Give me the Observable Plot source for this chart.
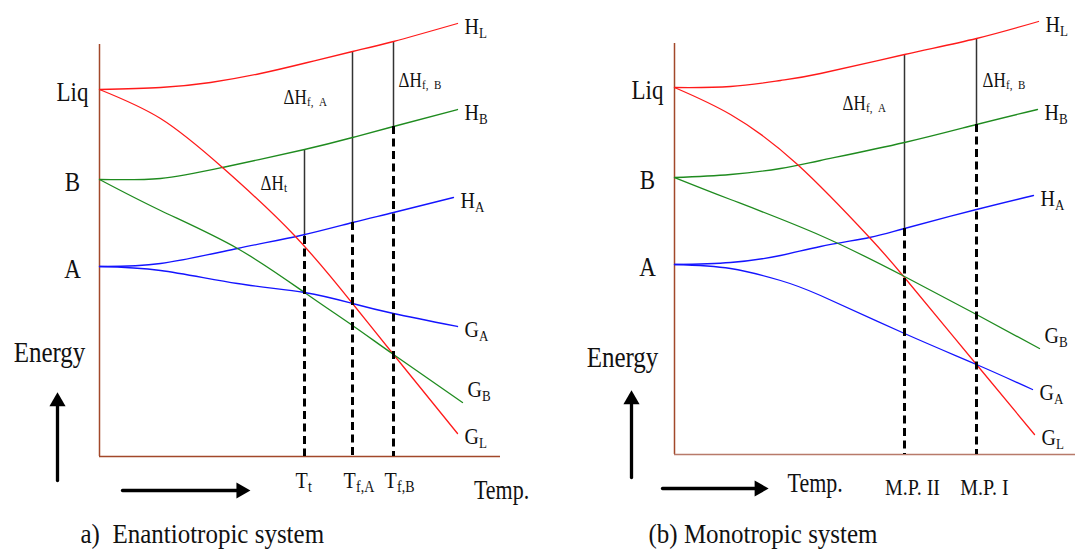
<!DOCTYPE html>
<html><head><meta charset="utf-8">
<script src="https://cdn.jsdelivr.net/npm/d3@7"></script>
<script src="https://cdn.jsdelivr.net/npm/@observablehq/plot@0.6"></script>
<style>
body{margin:0;background:#fff;}
#wrap{position:relative;width:1075px;height:551px;overflow:hidden;background:#fff;}
#pa,#pb{position:absolute;top:0;}
#pa{left:0;width:537px;} #pb{left:537px;width:538px;}
</style></head><body><div id="wrap"><div id="pa"></div><div id="pb"></div></div>
<script>
const FONT = "Liberation Serif, Times New Roman, serif";
const INK = "#111";
const RED = "#ff1a1a", GREEN = "#1f8b1f", BLUE = "#1414ff", AXIS = "#a2482a";

// ---------- Panel (a): Enantiotropic system  [temperature, energy] ----------
const a_HL = [[0,91.75],[15.25,92.25],[27.75,93.5],[40.25,95.75],[52,98.5],[63.25,101.25],[73.5,103.75],[89.5,108.25]];
const a_HB = [[0,69.25],[15.25,69.5],[30.75,72.25],[51.25,76.75],[63.25,79.75],[73.5,82.5],[89.5,86.75]];
const a_HA = [[0,47.5],[15.25,48.25],[34.5,52],[50.25,55.25],[63.25,58.5],[73.5,61],[88.5,64.75]];
const a_GL = [[0,91.75],[15.25,84.5],[30.75,72.25],[48.75,55.25],[63.25,38.25],[73.5,25.5],[89.5,5.75]];
const a_GB = [[0,69.25],[15.25,61.5],[34.5,52],[51.25,41],[63.25,32.75],[73.5,25.5],[90.75,13.5]];
const a_GA = [[0,47.5],[15.25,46.5],[34.5,43.25],[51.25,41],[63.25,38.25],[73.5,35.75],[89.5,32.5]];
const a_transitions = [
  {T:51.25, top:76.75, mid:55,   main:"T", sub:"t"},
  {T:63.25, top:101.25, mid:58.5, main:"T", sub:"f,A"},
  {T:73.5,  top:103.75, mid:82.5, main:"T", sub:"f,B"}
];
const a_deltas = [
  {T:40.25, E:68.25, sub:"t"},
  {T:46,    E:89.75, sub:"f,\u00a0\u00a0A"},
  {T:74.75, E:94,    sub:"f,\u00a0\u00a0B"}
];
const a_arrows = {up:[[-10.5,-6],[-10.5,13]], upHead:[-10.5,13.7], right:[[5.75,-8.5],[35,-8.5]], rightHead:[35.4,-8.5]};

// ---------- Panel (b): Monotropic system ----------
const b_HL = [[0,91.75],[14,92],[26.5,93.5],[36.5,95.25],[57.5,100],[75.5,104],[91,108.25]];
const b_HB = [[0,69.25],[14,70],[26.5,71.5],[36.5,73.5],[57.5,78],[75.5,82.5],[90.75,86.25]];
const b_HA = [[0,47.5],[14,48],[26.5,49.75],[36.5,52],[48.75,54.25],[57.5,56.5],[75.5,61.25],[89.75,64.75]];
const b_GL = [[0,91.75],[14,85],[30.75,72.5],[48.75,54.25],[57.5,44.25],[75.5,22.5],[90,5]];
const b_GB = [[0,69.25],[14,63.75],[36.5,54.75],[57.5,44.5],[75.5,35],[91.25,26.5]];
const b_GA = [[0,47.5],[14,46.5],[26.5,43.5],[36.5,39.75],[57.5,30.25],[75.5,22.5],[89.5,16.25]];
const b_transitions = [
  {T:57.5, top:100, mid:56.5, label:"M.P. II"},
  {T:75.5, top:104, mid:82.5, label:"M.P. I"}
];
const b_deltas = [
  {T:42, E:87.75, sub:"f,\u00a0\u00a0A"},
  {T:77, E:93.5,  sub:"f,\u00a0\u00a0B"}
];
const b_arrows = {up:[[-10.75,-5.75],[-10.75,13]], upHead:[-10.75,13.7], right:[[-3,-8.5],[21,-8.5]], rightHead:[21.2,-8.5]};

const txt = {fontFamily: FONT, fill: INK, lineAnchor: "middle"};

function panel(p) {
  const curves = [
    {key:"HL", main:"H", sub:"L", color:RED,   pts:p.HL},
    {key:"HB", main:"H", sub:"B", color:GREEN, pts:p.HB},
    {key:"HA", main:"H", sub:"A", color:BLUE,  pts:p.HA},
    {key:"GL", main:"G", sub:"L", color:RED,   pts:p.GL},
    {key:"GB", main:"G", sub:"B", color:GREEN, pts:p.GB},
    {key:"GA", main:"G", sub:"A", color:BLUE,  pts:p.GA}
  ];
  const rows = curves.flatMap(c => c.pts.map(([T, E]) => ({key:c.key, color:c.color, T, E})));
  const ends = curves.map(c => { const [T, E] = c.pts[c.pts.length - 1]; return {key:c.key, main:c.main, sub:c.sub, T, E}; });
  const endsMain = ends.filter(d => d.key !== "GB");
  const endsGB = ends.filter(d => d.key === "GB");
  const starts = [{label:"Liq", E:p.HL[0][1]}, {label:"B", E:p.HB[0][1]}, {label:"A", E:p.HA[0][1]}];

  const marks = [
    Plot.ruleX([0], {stroke: AXIS, strokeWidth: 1.5}),
    Plot.ruleY([0], {stroke: p.bottomColor, strokeWidth: 1.5}),
    Plot.ruleX(p.trans, {x:"T", y1:"top", y2:"mid", stroke:"#333", strokeWidth:1.5}),
    Plot.line(rows, {x:"T", y:"E", z:"key", stroke:"color", strokeWidth:1.3, curve:"natural"}),
    Plot.ruleX(p.trans, {x:"T", y1:"mid", y2:0, stroke:"#000", strokeWidth:3, strokeDasharray:"8,4.5"}),
    // state labels
    Plot.text(starts, {x:() => 0, y:"E", text:"label", textAnchor:"middle", dx:-27, dy:3, fontSize:23, ...txt}),
    // curve end labels
    Plot.text(endsMain, {x:"T", y:"E", text:"main", textAnchor:"start", dx:7, dy:3, fontSize:20, ...txt}),
    Plot.text(endsMain, {x:"T", y:"E", text:"sub", textAnchor:"start", dx:21.5, dy:9, fontSize:13, ...txt}),
    Plot.text(endsGB, {x:"T", y:"E", text:"main", textAnchor:"start", dx:5, dy:-13, fontSize:20, ...txt}),
    Plot.text(endsGB, {x:"T", y:"E", text:"sub", textAnchor:"start", dx:19.5, dy:-7, fontSize:13, ...txt}),
    // delta H labels
    Plot.text(p.deltas, {x:"T", y:"E", text:() => "\u0394H", textAnchor:"start", fontSize:17, ...txt}),
    Plot.text(p.deltas, {x:"T", y:"E", text:"sub", textAnchor:"start", dx:23.5, dy:4, fontSize:11, ...txt}),
    // arrows
    Plot.line(p.arrows.up, {x:d => d[0], y:d => d[1], stroke:"#000", strokeWidth:3.3}),
    Plot.line(p.arrows.right, {x:d => d[0], y:d => d[1], stroke:"#000", strokeWidth:3.3}),
    Plot.dot([p.arrows.upHead], {x:d => d[0], y:d => d[1], symbol:"triangle", r:6, fill:"#000", stroke:null}),
    Plot.dot([p.arrows.rightHead], {x:d => d[0], y:d => d[1], symbol:"triangle", r:6, fill:"#000", stroke:null, rotate:90}),
    // Energy label
    Plot.text(["Energy"], {text:d => d, frameAnchor:"left", textAnchor:"middle", dx:p.energy[0], dy:p.energy[1], fontSize:25, ...txt}),
    // caption
    Plot.text([p.caption], {text:d => d, frameAnchor:"bottom-left", textAnchor:"start", dx:p.capPos[0], dy:p.capPos[1], fontSize:25, className:"caption", ...txt}),
    ...p.extra
  ];
  const svg = Plot.plot({
    width: p.width, height: 551,
    marginLeft: p.ml, marginRight: p.mr, marginTop: p.mt, marginBottom: p.mb,
    x: {domain: [0, 100.25], axis: null},
    y: {domain: [0, p.yMax], axis: null},
    color: {type: "identity"},
    style: {overflow: "visible", fontFamily: FONT, background: "transparent"},
    marks
  });
  svg.querySelectorAll("text").forEach(t => {
    const k = t.closest(".caption") ? 1.12 : 1.2;
    const tr = t.getAttribute("transform") || "";
    t.setAttribute("transform", tr + ` scale(1,${k})`);
  });
  return svg;
}

const svgA = panel({
  HL:a_HL, HB:a_HB, HA:a_HA, GL:a_GL, GB:a_GB, GA:a_GA,
  trans:a_transitions, deltas:a_deltas, arrows:a_arrows,
  width:537, ml:99, mr:37, mt:44, mb:95, yMax:103, bottomColor:AXIS,
  energy:[-50, 102], caption:"a)\u00a0\u00a0Enantiotropic system", capPos:[-19, 78],
  extra:[
    Plot.text(a_transitions, {x:"T", y:() => 0, text:"main", textAnchor:"start", dx:-9, dy:24, fontSize:20, ...txt}),
    Plot.text(a_transitions, {x:"T", y:() => 0, text:"sub", textAnchor:"start", dx:3.5, dy:30, fontSize:14, ...txt}),
    Plot.text(["Temp."], {text:d => d, frameAnchor:"bottom-right", textAnchor:"middle", dx:1, dy:34, fontSize:22, ...txt})
  ]
});
const svgB = panel({
  HL:b_HL, HB:b_HB, HA:b_HA, GL:b_GL, GB:b_GB, GA:b_GA,
  trans:b_transitions, deltas:b_deltas, arrows:b_arrows,
  width:538, ml:137, mr:0, mt:43, mb:97, yMax:102.75, bottomColor:"#b87a6a",
  energy:[-52, 108.5], caption:"(b) Monotropic system", capPos:[-26, 80],
  extra:[
    Plot.text(b_transitions, {x:"T", y:() => 0, text:"label", textAnchor:"middle", dx:8, dy:33, fontSize:20, ...txt}),
    Plot.text(["Temp."], {text:d => d, frameAnchor:"bottom-left", textAnchor:"start", dx:113, dy:29, fontSize:22, ...txt})
  ]
});
document.getElementById("pa").appendChild(svgA);
document.getElementById("pb").appendChild(svgB);
</script>
</body></html>
